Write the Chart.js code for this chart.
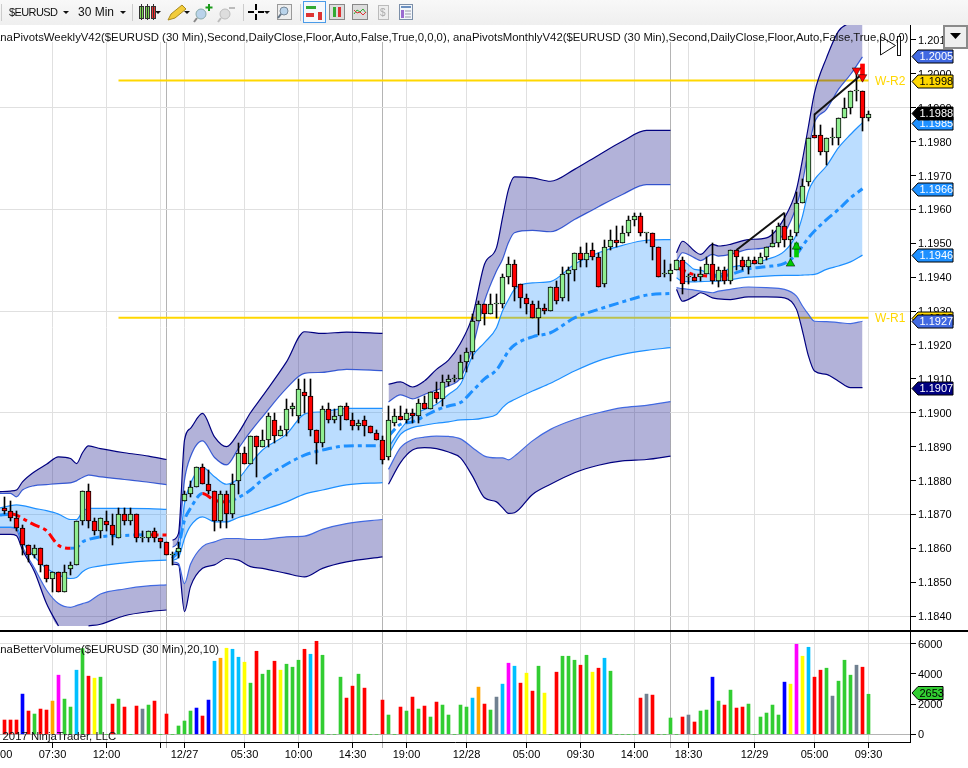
<!DOCTYPE html>
<html>
<head>
<meta charset="utf-8">
<title>$EURUSD 30 Min</title>
<script src="https://cdn.jsdelivr.net/npm/chart.js@4/dist/chart.umd.min.js"></script>
<style>
html,body{margin:0;padding:0;background:#fff;width:968px;height:768px;overflow:hidden;font-family:"Liberation Sans",Arial,sans-serif}
canvas{position:absolute;left:0;display:block}
#priceChart{top:25px}
#volumeChart{top:631px}
#bar{position:absolute;left:0;top:0;width:968px;height:25px;background:linear-gradient(#f8f8f8,#efefef)}
#over{position:absolute;left:0;top:0;pointer-events:none}
.note{position:absolute;font-size:11.35px;color:#111;white-space:nowrap;line-height:14px}
#split{position:absolute;left:0;top:630px;width:968px;height:1.5px;background:#000}
</style>
</head>
<body>
<div id="bar"></div>
<canvas id="priceChart" width="968" height="605"></canvas>
<canvas id="volumeChart" width="968" height="137"></canvas>
<div id="split"></div>
<div class="note" style="left:-6px;top:30px">anaPivotsWeeklyV42($EURUSD (30 Min),Second,DailyClose,Floor,Auto,False,True,0,0,0), anaPivotsMonthlyV42($EURUSD (30 Min),Second,DailyClose,Floor,Auto,False,True,0,0,0)</div>
<div class="note" style="left:-6px;top:642px">anaBetterVolume($EURUSD (30 Min),20,10)</div>
<div class="note" style="left:-9px;top:729px">© 2017 NinjaTrader, LLC</div>
<svg id="over" width="968" height="768" xmlns="http://www.w3.org/2000/svg">
 <g font-family="Liberation Sans" fill="#111">
  <text x="9" y="16" font-size="11" textLength="49">$EURUSD</text>
  <text x="78" y="16" font-size="12" textLength="36">30 Min</text>
 </g>
 <g fill="#111">
  <path d="M63 11h6l-3 3z"/><path d="M120 11h6l-3 3z"/><path d="M155 11h6l-3 3z"/><path d="M184 11h6l-3 3z"/><path d="M264 11h6l-3 3z"/>
 </g>
 <g stroke="#ccc"><path d="M1.5 4v17M132.5 4v17M243.5 4v17M300.5 4v17"/></g>
 <g stroke="#333">
  <rect x="139.5" y="6.5" width="4" height="12" fill="#7ed957"/><rect x="145.5" y="6.5" width="4" height="12" fill="#7ed957"/><rect x="151.5" y="6.5" width="4" height="12" fill="#e33"/>
  <path d="M141.5 4v16M147.5 4v16M153.5 4v16"/>
 </g>
 <path d="M168 20l3-6 11-9 4 4-11 9z" fill="#f2cc3a" stroke="#a88a20"/>
 <circle cx="201" cy="14" r="5" fill="#b9d3ea" stroke="#8aa"/><path d="M197 18l-3 4" stroke="#888" stroke-width="2"/><path d="M209 4v7M205.5 7.5h7" stroke="#1a9a1a" stroke-width="2"/>
 <circle cx="225" cy="14" r="5" fill="#ddd" stroke="#bbb"/><path d="M221 18l-3 4" stroke="#bbb" stroke-width="2"/><path d="M229 8h6" stroke="#bbb" stroke-width="2"/>
 <path d="M248 12h6M258 12h6M256 4v6M256 14v6" stroke="#000" stroke-width="2"/>
 <rect x="277.5" y="4.5" width="14" height="15" fill="#eee" stroke="#999"/><circle cx="284" cy="11" r="4" fill="#b9d3ea" stroke="#789"/><path d="M281 14l-3 4" stroke="#678" stroke-width="2"/>
 <rect x="303.5" y="1.5" width="22" height="21" fill="#f4f8fc" stroke="#4a9be8"/>
 <path d="M306 6h10v3h-10z" fill="#3a3"/><path d="M318 12h4v8h-4z" fill="#d33"/><path d="M306 13h8v4h-8z" fill="#d33"/>
 <rect x="329.5" y="4.5" width="15" height="15" fill="#ddd" stroke="#888"/><path d="M333 7h3v10h-3z" fill="#3a3"/><path d="M338 7h3v10h-3z" fill="#d33"/>
 <rect x="352.5" y="4.5" width="15" height="15" fill="#ddd" stroke="#888"/><path d="M354 14l3-4 3 2 3-3 3 4" fill="none" stroke="#3a3"/><path d="M354 10l3 3 3-1 3 3 3-3" fill="none" stroke="#d33"/>
 <rect x="378.5" y="5.5" width="10" height="14" fill="#eee" stroke="#bbb"/><text x="380" y="16" font-size="10" font-family="Liberation Sans" fill="#aaa">$</text>
 <rect x="399.5" y="4.5" width="13" height="15" fill="#f2f6fa" stroke="#7c8fa8"/><path d="M401 6h10v2h-10z" fill="#6a8fc0"/><path d="M401 10h3v8h-3z" fill="#9a6ad0"/><path d="M405 11h6M405 14h6M405 17h6" stroke="#99a"/>
 <path d="M880.5 36.5L895.5 45.5L880.5 55z" fill="#fff" fill-opacity="0" stroke="#111"/>
 <rect x="897.5" y="36.5" width="3" height="19" fill="#fff" stroke="#111"/>
 <rect x="944" y="26" width="23" height="22" fill="#efefef" stroke="#8a8a8a" stroke-width="2"/>
 <path d="M950 33h11l-5.5 6z" fill="#000"/>
</svg>
<script>
// candles, one entry per 30 min bar
const opens=[1.1872,1.1871,1.1869,1.1866,1.1861,1.1858,1.1860,1.1855,1.1851,1.1853,1.1847,1.1854,1.1855,1.1868,1.1877,1.1868,1.1865,1.1868,1.1867,1.1863,1.1870,1.1868,1.1870,1.1863,1.1863,1.1865,1.1863,1.1862,1.1858,1.1859,
1.1874,1.1876,1.1878,1.1884,1.1879,1.1877,1.1868,1.1876,1.1870,1.1880,1.1888,1.1885,1.1893,1.1890,1.1892,1.1898,1.1893,1.1895,1.1901,1.1899,1.1906,1.1905,1.1895,1.1891,1.1901,1.1898,1.1899,1.1902,1.1898,1.1896,1.1898,1.1896,1.1894,1.1892,
1.1887,1.1897,1.1899,1.1898,1.1900,1.1899,1.1903,1.1901,1.1906,1.1904,1.1909,1.1910,1.1910,1.1915,1.1918,1.1927,1.1932,1.1929,1.1932,1.1932,1.1940,1.1944,1.1938,1.1934,1.1932,1.1928,1.1931,1.1930,1.1937,1.1934,1.1941,1.1942,1.1947,1.1945,1.1948,1.1946,1.1938,1.1949,1.1951,1.1950,1.1953,1.1957,1.1958,1.1953,1.1953,1.1949,1.1941,1.1941,
1.1942,1.1945,1.1940,1.1940,1.1940,1.1941,1.1944,1.1939,1.1942,1.1939,1.1948,1.1945,1.1943,1.1945,1.1944,1.1946,1.1949,1.1950,1.1955,1.1951,1.1953,1.1962,1.1968,1.1982,1.1982,1.1977,1.1981,1.1981,1.1987,1.1990,1.1995,1.1995,1.1987];
const highs=[1.1875,1.1874,1.1871,1.1867,1.1861,1.1861,1.1860,1.1855,1.1853,1.1853,1.1855,1.1856,1.1868,1.1877,1.1879,1.1869,1.1869,1.1871,1.1870,1.1872,1.1872,1.1872,1.1870,1.1865,1.1865,1.1866,1.1863,1.1862,1.1859,1.1862,
1.1877,1.1880,1.1884,1.1885,1.1883,1.1877,1.1877,1.1877,1.1882,1.1891,1.1890,1.1893,1.1893,1.1895,1.1900,1.1900,1.1896,1.1904,1.1903,1.1910,1.1910,1.1910,1.1895,1.1902,1.1903,1.1901,1.1902,1.1903,1.1900,1.1898,1.1899,1.1896,1.1895,1.1893,
1.1902,1.1901,1.1902,1.1901,1.1901,1.1904,1.1905,1.1906,1.1909,1.1911,1.1911,1.1911,1.1917,1.1919,1.1929,1.1933,1.1932,1.1935,1.1935,1.1941,1.1946,1.1945,1.1938,1.1935,1.1933,1.1933,1.1932,1.1937,1.1939,1.1943,1.1943,1.1947,1.1949,1.1950,1.1950,1.1947,1.1951,1.1954,1.1955,1.1955,1.1958,1.1959,1.1959,1.1953,1.1953,1.1949,1.1945,1.1944,
1.1945,1.1946,1.1941,1.1941,1.1943,1.1946,1.1950,1.1943,1.1943,1.1948,1.1948,1.1946,1.1946,1.1946,1.1947,1.1949,1.1954,1.1956,1.1959,1.1954,1.1965,1.1969,1.1981,1.1988,1.1985,1.1981,1.1984,1.1987,1.1993,1.1995,1.2001,1.1995,1.1989];
const lows=[1.1870,1.1868,1.1865,1.1858,1.1856,1.1857,1.1853,1.1850,1.1847,1.1847,1.1847,1.1852,1.1855,1.1867,1.1866,1.1864,1.1863,1.1865,1.1861,1.1863,1.1867,1.1867,1.1862,1.1862,1.1862,1.1862,1.1860,1.1858,1.1855,1.1857,
1.1874,1.1875,1.1878,1.1879,1.1876,1.1865,1.1866,1.1866,1.1869,1.1876,1.1885,1.1885,1.1881,1.1890,1.1890,1.1891,1.1893,1.1893,1.1899,1.1897,1.1900,1.1893,1.1885,1.1890,1.1897,1.1897,1.1895,1.1898,1.1895,1.1895,1.1893,1.1894,1.1892,1.1885,
1.1886,1.1896,1.1898,1.1897,1.1897,1.1897,1.1901,1.1901,1.1903,1.1902,1.1908,1.1909,1.1910,1.1912,1.1916,1.1927,1.1926,1.1929,1.1928,1.1931,1.1938,1.1933,1.1931,1.1929,1.1928,1.1923,1.1929,1.1930,1.1932,1.1933,1.1933,1.1939,1.1943,1.1943,1.1945,1.1937,1.1937,1.1948,1.1949,1.1950,1.1952,1.1955,1.1952,1.1950,1.1945,1.1940,1.1940,1.1939,
1.1942,1.1935,1.1938,1.1939,1.1939,1.1941,1.1938,1.1937,1.1938,1.1938,1.1942,1.1942,1.1941,1.1944,1.1944,1.1945,1.1949,1.1949,1.1949,1.1946,1.1952,1.1962,1.1967,1.1981,1.1976,1.1973,1.1979,1.1979,1.1987,1.1988,1.1992,1.1983,1.1986];
const closes=[1.1871,1.1869,1.1866,1.1861,1.1858,1.1860,1.1855,1.1851,1.1853,1.1847,1.1853,1.1855,1.1868,1.1877,1.1868,1.1865,1.1869,1.1867,1.1864,1.1870,1.1868,1.1870,1.1863,1.1863,1.1865,1.1863,1.1862,1.1858,1.1858,1.1860,
1.1876,1.1878,1.1884,1.1879,1.1877,1.1868,1.1876,1.1870,1.1879,1.1888,1.1885,1.1893,1.1890,1.1892,1.1899,1.1893,1.1895,1.1901,1.1902,1.1907,1.1905,1.1895,1.1891,1.1901,1.1898,1.1899,1.1902,1.1898,1.1896,1.1897,1.1896,1.1894,1.1892,1.1886,
1.1898,1.1899,1.1898,1.1900,1.1899,1.1903,1.1901,1.1906,1.1904,1.1909,1.1910,1.1910,1.1915,1.1918,1.1927,1.1932,1.1929,1.1932,1.1932,1.1940,1.1944,1.1937,1.1934,1.1932,1.1928,1.1931,1.1930,1.1937,1.1933,1.1941,1.1942,1.1947,1.1945,1.1947,1.1946,1.1937,1.1949,1.1951,1.1950,1.1953,1.1957,1.1958,1.1953,1.1953,1.1949,1.1940,1.1941,1.1942,
1.1945,1.1938,1.1940,1.1939,1.1941,1.1944,1.1939,1.1942,1.1939,1.1948,1.1946,1.1943,1.1945,1.1944,1.1946,1.1949,1.1950,1.1955,1.1951,1.1952,1.1962,1.1967,1.1981,1.1981,1.1977,1.1981,1.1981,1.1987,1.1990,1.1995,1.1995,1.1987,1.1988];

// volume per bar, 0 where nothing printed; kinds: d down, u up, b blue, o orange, m magenta, c cyan, y yellow, s grey
const volumes=[946,946,946,2662,1540,1342,1672,1606,2200,3916,2332,1804,4246,5676,3850,3718,3784,0,2002,2332,1804,0,1870,1672,1936,2200,0,1342,0,550,
880,1540,1738,1210,2266,4840,5038,5698,5632,5104,4774,3388,5500,3982,4246,4840,4246,4642,4444,4906,5632,5302,6160,5236,0,0,3784,2398,3190,3982,3058,0,0,2266,
1276,0,1804,1540,2464,1672,1870,1144,2134,1936,1276,0,1936,1804,2398,3124,2002,1606,2464,3322,4708,4510,3388,4048,2860,4510,2728,0,4114,5170,5170,4906,4576,5236,4114,4378,5038,4180,0,0,0,0,2398,2662,2596,0,0,1078,
0,1144,1276,814,1540,1606,3784,2200,1936,2926,1738,1804,2002,0,1144,1408,1936,1276,3454,3322,5962,5170,5764,3784,4246,4378,2530,3520,4906,3916,4576,4444,2653];
const volumeKinds=['d','d','d','b','d','u','d','d','o','m','u','u','c','u','d','y','u','u','d','u','d','u','d','s','u','d','u','d','u','u',
'u','u','b','d','b','c','o','y','c','c','y','u','d','u','u','d','y','u','u','u','d','c','d','u','u','u','u','d','d','u','d','u','u','d',
'u','u','d','u','d','u','d','u','d','u','u','u','u','u','c','o','d','u','s','c','m','c','d','y','d','u','y','u','d','u','u','u','d','u','y','d','c','u','u','u','u','u','d','s','d','u','u','u',
'u','d','s','d','u','u','b','u','d','u','d','d','u','u','u','u','u','u','b','y','m','y','c','d','d','u','s','u','u','u','s','d','u'];

// time axis
const tickBars=[-1,8,17,26,27,30,40,49,58,63,67,77,87,96,105,111,114,125,135,144];
const tickLabels=['03:00','07:30','12:00','','','12/27','05:30','10:00','14:30','','19:00','12/28','05:00','09:30','14:00','','18:30','12/29','05:00','09:30'];
const sessionBars=[27,63,111];
const priceTicks=[1.184,1.185,1.186,1.187,1.188,1.189,1.19,1.191,1.192,1.193,1.194,1.195,1.196,1.197,1.198,1.199,1.2,1.201];
const priceGridTicks=[1.184,1.187,1.19,1.193,1.196,1.199];
const volumeTicks=[0,2000,4000,6000];

// session 1 bands
const s1Bars=[-1,1,2,3,5,7,9,11,12,13,14,16,20,24,27];
const s1Top=[1.18767,1.18769,1.18772,1.18796,1.18826,1.18848,1.18870,1.18865,1.18850,1.18882,1.18902,1.18894,1.18882,1.18872,1.18862];
const s1TopIn=[1.18762,1.18762,1.18752,1.18772,1.18785,1.18788,1.18791,1.18793,1.18799,1.18809,1.18816,1.18811,1.18803,1.18795,1.18788];
const s1Upper=[1.18718,1.18726,1.18728,1.18726,1.18718,1.18711,1.18701,1.18685,1.18685,1.18708,1.18718,1.18718,1.18718,1.18717,1.18715];
const s1Lower=[1.18662,1.18662,1.18662,1.18619,1.18575,1.18541,1.18521,1.18511,1.18514,1.18531,1.18541,1.18548,1.18557,1.18563,1.18565];
const s1BotIn=[1.18662,1.18662,1.18656,1.18605,1.18541,1.18477,1.18437,1.18426,1.18431,1.18437,1.18442,1.18465,1.18480,1.18489,1.18492];
const s1Bot=[1.18641,1.18641,1.18637,1.18595,1.18531,1.18437,1.18371,1.18371,1.18371,1.18371,1.18371,1.18376,1.18401,1.18413,1.18418];
const s1Mid=[1.18698,1.18701,1.18698,1.18688,1.18669,1.18652,1.18609,1.18600,1.18602,1.18619,1.18626,1.18634,1.18638,1.18640,1.18639];
const bandFloor=1.18371; // the panel cuts the lower band off here

// session 2 bands
const s2Bars=[28,29,30,31,33,35,37,39,41,43,47,50,53,57,63];
const s2Top=[1.18624,1.18644,1.18919,1.18954,1.18998,1.18929,1.18900,1.18941,1.19000,1.19049,1.19150,1.19239,1.19234,1.19238,1.19234];
const s2TopIn=[1.18603,1.18624,1.18801,1.18870,1.18917,1.18868,1.18846,1.18895,1.18944,1.18988,1.19072,1.19116,1.19119,1.19128,1.19124];
const s2Upper=[1.18573,1.18590,1.18732,1.18791,1.18839,1.18811,1.18789,1.18806,1.18850,1.18890,1.18937,1.18996,1.19003,1.19013,1.19013];
const s2Lower=[1.18565,1.18573,1.18629,1.18666,1.18693,1.18678,1.18678,1.18691,1.18701,1.18713,1.18737,1.18760,1.18772,1.18787,1.18794];
const s2BotIn=[1.18560,1.18555,1.18496,1.18553,1.18605,1.18619,1.18629,1.18629,1.18626,1.18626,1.18634,1.18636,1.18656,1.18673,1.18685];
const s2Bot=[1.18553,1.18551,1.18413,1.18487,1.18541,1.18551,1.18570,1.18565,1.18546,1.18541,1.18526,1.18516,1.18541,1.18560,1.18575];
const s2Mid=[1.18570,1.18605,1.18683,1.18718,1.18762,1.18742,1.18737,1.18750,1.18772,1.18803,1.18848,1.18875,1.18890,1.18902,1.18903];

// session 3 bands
const s3Bars=[64,66,68,70,72,74,76,78,80,82,83,84,85,88,91,95,99,103,107,111];
const s3Top=[1.19084,1.19091,1.19076,1.19094,1.19128,1.19155,1.19205,1.19285,1.19438,1.19487,1.19575,1.19659,1.19696,1.19693,1.19683,1.19718,1.19760,1.19801,1.19833,1.19833];
const s3TopIn=[1.19032,1.19053,1.19041,1.19054,1.19067,1.19079,1.19103,1.19192,1.19329,1.19418,1.19452,1.19502,1.19531,1.19538,1.19534,1.19570,1.19608,1.19644,1.19673,1.19673];
const s3Upper=[1.18897,1.18951,1.18990,1.19010,1.19025,1.19054,1.19084,1.19167,1.19207,1.19251,1.19300,1.19334,1.19364,1.19383,1.19387,1.19438,1.19472,1.19494,1.19509,1.19511];
const s3Lower=[1.18877,1.18936,1.18956,1.18963,1.18969,1.18973,1.18979,1.18980,1.18985,1.18995,1.19015,1.19030,1.19039,1.19064,1.19087,1.19123,1.19153,1.19172,1.19184,1.19192];
const s3BotIn=[1.18833,1.18897,1.18921,1.18928,1.18931,1.18930,1.18923,1.18897,1.18872,1.18867,1.18867,1.18861,1.18872,1.18917,1.18951,1.18980,1.19000,1.19015,1.19022,1.19033];
const s3Bot=[1.18789,1.18853,1.18890,1.18897,1.18894,1.18884,1.18867,1.18813,1.18749,1.18737,1.18720,1.18703,1.18705,1.18759,1.18789,1.18823,1.18845,1.18858,1.18862,1.18872];
const s3Mid=[1.18931,1.18966,1.18973,1.18990,1.19008,1.19020,1.19030,1.19064,1.19100,1.19126,1.19153,1.19182,1.19200,1.19224,1.19236,1.19280,1.19305,1.19327,1.19347,1.19352];

// session 4 bands
const s4Bars=[112,113,115,116,118,119,121,124,127,130,132,133,134,135,137,139,141,143];
const s4Top=[1.19472,1.19506,1.19477,1.19467,1.19497,1.19492,1.19497,1.19511,1.19516,1.19575,1.19659,1.19747,1.19846,1.19944,1.20047,1.20126,1.20151,1.20165];
const s4TopIn=[1.19447,1.19472,1.19457,1.19449,1.19467,1.19462,1.19467,1.19482,1.19487,1.19531,1.19610,1.19679,1.19777,1.19856,1.19895,1.19954,1.19998,1.20050];
const s4Upper=[1.19443,1.19447,1.19423,1.19421,1.19408,1.19408,1.19428,1.19438,1.19452,1.19477,1.19526,1.19580,1.19654,1.19688,1.19728,1.19782,1.19821,1.19856];
const s4Lower=[1.19398,1.19388,1.19386,1.19387,1.19388,1.19388,1.19393,1.19400,1.19403,1.19405,1.19405,1.19406,1.19407,1.19408,1.19423,1.19433,1.19445,1.19465];
const s4BotIn=[1.19369,1.19366,1.19362,1.19359,1.19354,1.19359,1.19364,1.19371,1.19369,1.19364,1.19344,1.19315,1.19290,1.19270,1.19269,1.19266,1.19263,1.19270];
const s4Bot=[1.19364,1.19329,1.19344,1.19354,1.19339,1.19336,1.19334,1.19342,1.19342,1.19339,1.19305,1.19241,1.19167,1.19123,1.19113,1.19093,1.19074,1.19074];
const s4Mid=[1.19428,1.19421,1.19407,1.19405,1.19403,1.19403,1.19408,1.19425,1.19431,1.19441,1.19467,1.19492,1.19516,1.19536,1.19570,1.19600,1.19634,1.19661];

// pivots and drawings
const pivotR2=1.1998, pivotR1=1.1928;
const pivotStart=19, pivotEnd=144;
const trendA=[[122,1.1948],[130,1.1959]];
const trendB=[[135,1.1988],[143,1.2000]];
const arrowUp={bar:132,from:1.1946,to:1.1950,head:1.1949};
const arrowDown={bar:143,from:1.2003,to:1.1999,head:1.1999};
const triUp={bar:131,price:1.1944};
const triDown={bar:142,price:1.2001};

// right hand price tags: level it sits at, and the text it shows
const tagLevels=[1.20053,1.1998,1.19856,1.19884,1.19661,1.19465,1.1928,1.1927,1.19074];
const tagTexts=['1.2005','1.1998','1.1985','1.1988','1.1966','1.1946','1.1928','1.1927','1.1907'];
const tagKinds=['royal','gold','sky','black','sky','sky','gold','royal','navy'];
const lastVolume=2653;

const GREEN_BODY='#90EE90',RED='#FF0000',NAVY='#000080',ROYAL='#4169E1',SKY='#1E90FF',GOLD='#FFD700',GRID='#E0E0E0',SEP='#B4B4B4';
const TAG_STYLE={royal:[ROYAL,'#fff'],gold:[GOLD,'#000'],sky:[SKY,'#fff'],black:['#000','#fff'],navy:[NAVY,'#fff']};
const VOL_COLOR={d:'#FF0000',u:'#32CD32',b:'#0000FF',o:'#FFA500',m:'#FF00FF',c:'#00BFFF',y:'#FFFF00',s:'#708090'};
const FONT='"Liberation Sans", Arial, sans-serif';
const X_MIN=-0.75,X_MAX=150.9167;

Chart.defaults.font.family=FONT;
Chart.defaults.font.size=11;
Chart.defaults.color='#000';

function pts(bars_,vals){return bars_.map((b,i)=>({x:b,y:vals[i]}));}
const bars=opens.map((_,i)=>i);
const datasets=[];

function lineDs(bars_,vals,color,width,order,extra){
 return Object.assign({type:'line',data:pts(bars_,vals),borderColor:color,borderWidth:width,pointRadius:0,fill:false,order:order,cubicInterpolationMode:'monotone'},extra||{});
}
// gold pivots go under the bands
datasets.push(lineDs([pivotStart,pivotEnd],[pivotR2,pivotR2],GOLD,2,100,{cubicInterpolationMode:'default'}));
datasets.push(lineDs([pivotStart,pivotEnd],[pivotR1,pivotR1],GOLD,2,100,{cubicInterpolationMode:'default'}));

function addSession(b,top,topIn,upper,lower,botIn,bot,mid){
 const n=datasets.length;
 const purple='rgba(0,0,128,0.3)',blue='rgba(30,144,255,0.3)';
 datasets.push(lineDs(b,top,NAVY,1.2,50,{fill:{target:n+1},backgroundColor:purple}));
 datasets.push(lineDs(b,topIn,ROYAL,1.2,50));
 datasets.push(lineDs(b,upper,SKY,1.2,50,{fill:{target:n+3},backgroundColor:blue}));
 datasets.push(lineDs(b,lower,SKY,1.2,50));
 datasets.push(lineDs(b,botIn,ROYAL,1.2,50,{fill:{target:n+5},backgroundColor:purple}));
 datasets.push(lineDs(b,bot,NAVY,0,50));
 // visible outer line leaves out the stretch lying on the panel floor
 const shown=bot.map((v,i)=>(v<=bandFloor&&bot[i-1]<=bandFloor&&bot[i+1]<=bandFloor)||(v<=bandFloor&&i>0&&i<bot.length-1&&bot[i-1]<=bandFloor&&i<bot.length-2&&bot[i+2]<=bandFloor)?null:v);
 datasets.push(lineDs(b,shown,NAVY,1.2,50));
 datasets.push(lineDs(b,mid,SKY,3,40,{borderDash:[10,4,4,4],segment:{borderColor:c=>c.p1.parsed.y<c.p0.parsed.y?RED:SKY}}));
}
addSession(s1Bars,s1Top,s1TopIn,s1Upper,s1Lower,s1BotIn,s1Bot,s1Mid);
addSession(s2Bars,s2Top,s2TopIn,s2Upper,s2Lower,s2BotIn,s2Bot,s2Mid);
addSession(s3Bars,s3Top,s3TopIn,s3Upper,s3Lower,s3BotIn,s3Bot,s3Mid);
addSession(s4Bars,s4Top,s4TopIn,s4Upper,s4Lower,s4BotIn,s4Bot,s4Mid);

// wicks then bodies
datasets.push({type:'bar',grouped:false,order:30,barThickness:1,backgroundColor:'#000',borderWidth:0,
 data:bars.map(i=>({x:i,y:[lows[i],highs[i]]}))});
datasets.push({type:'bar',grouped:false,order:20,barThickness:5,minBarLength:1,borderColor:'#000',borderWidth:1,borderSkipped:false,
 backgroundColor:bars.map(i=>closes[i]>=opens[i]?GREEN_BODY:RED),
 data:bars.map(i=>({x:i,y:[opens[i],closes[i]]}))});

// trend lines and signals
datasets.push(lineDs(trendA.map(p=>p[0]),trendA.map(p=>p[1]),'#111',2,10,{cubicInterpolationMode:'default'}));
datasets.push(lineDs(trendB.map(p=>p[0]),trendB.map(p=>p[1]),'#111',2,10,{cubicInterpolationMode:'default'}));
datasets.push({type:'bar',grouped:false,order:8,barThickness:4,backgroundColor:'#00CC00',borderWidth:0,data:[{x:arrowUp.bar,y:[arrowUp.from,arrowUp.to]}]});
datasets.push({type:'bar',grouped:false,order:8,barThickness:4,backgroundColor:RED,borderWidth:0,data:[{x:arrowDown.bar,y:[arrowDown.from,arrowDown.to]}]});
datasets.push({type:'scatter',order:7,pointStyle:'triangle',pointRadius:5,backgroundColor:'#00CC00',borderColor:'#000',borderWidth:0.5,data:[{x:arrowUp.bar,y:arrowUp.head},{x:triUp.bar,y:triUp.price}]});
datasets.push({type:'scatter',order:7,pointStyle:'triangle',pointRotation:180,pointRadius:5,backgroundColor:RED,borderColor:'#000',borderWidth:0.5,data:[{x:arrowDown.bar,y:arrowDown.head},{x:triDown.bar,y:triDown.price}]});

function drawTag(ctx,y,text,fill,color,right){
 ctx.beginPath();ctx.moveTo(912,y);ctx.lineTo(918,y-6.5);ctx.lineTo(right,y-6.5);ctx.lineTo(right,y+6.5);ctx.lineTo(918,y+6.5);ctx.closePath();
 ctx.fillStyle=fill;ctx.fill();ctx.strokeStyle='#000';ctx.lineWidth=1;ctx.stroke();
 ctx.fillStyle=color;ctx.font='11px '+FONT;ctx.textAlign='left';ctx.textBaseline='middle';ctx.fillText(text,919.5,y+0.5);
}
// snap candle edges to whole pixels so the outlines stay crisp
function snapBars(c){
 c.getSortedVisibleDatasetMetas().forEach(m=>{
  if(m.type!=='bar') return;
  m.data.forEach(el=>{el.y=Math.round(el.y);el.base=Math.round(el.base);});
 });
}
const priceDecor={
 id:'priceDecor',
 beforeDatasetsDraw(c){ // grid stops under the indicator caption
  const a=c.ctx;a.save();a.fillStyle='#fff';a.fillRect(0,0,c.chartArea.right,17);a.restore();
  snapBars(c);
 },
 afterDraw(c){
  const a=c.ctx,s=c.scales.y;a.save();
  tagLevels.forEach((v,i)=>{const st=TAG_STYLE[tagKinds[i]];drawTag(a,Math.round(s.getPixelForValue(v))+.5,tagTexts[i],st[0],st[1],953);});
  a.fillStyle=GOLD;a.font='12px '+FONT;a.textAlign='left';a.textBaseline='middle';
  a.fillText('W-R2',875,s.getPixelForValue(pivotR2)+1);
  a.fillText('W-R1',875,s.getPixelForValue(pivotR1)+1);
  a.restore();
 }
};
const volumeDecor={
 id:'volumeDecor',
 afterDraw(c){const a=c.ctx;a.save();drawTag(a,62,String(lastVolume),'#32CD32','#000',943);a.restore();}
};

function xScale(showTicks){
 return {type:'linear',min:X_MIN,max:X_MAX,offset:false,
  afterBuildTicks:s=>{s.ticks=tickBars.map(v=>({value:v}));},
  afterFit:s=>{s.paddingLeft=0;s.paddingRight=0;s.height=showTicks?26:0;},
  border:{display:showTicks,color:'#000',width:1},
  grid:{offset:false,color:c=>sessionBars.includes(c.tick&&c.tick.value)?SEP:GRID,lineWidth:1,drawTicks:showTicks,tickLength:6,
   tickColor:c=>sessionBars.includes(c.tick&&c.tick.value)?SEP:'#000'},
  ticks:{display:showTicks,autoSkip:false,maxRotation:0,minRotation:0,padding:0,color:'#000',
   callback:v=>{const k=tickBars.indexOf(v);return k<0?'':tickLabels[k];}}};
}
function yScale(min,max,values,gridFn,fmt){
 return {position:'right',min:min,max:max,
  afterBuildTicks:s=>{s.ticks=values.map(v=>({value:v}));},
  afterFit:s=>{s.width=58;s.paddingTop=0;s.paddingBottom=0;},
  border:{display:true,color:'#000',width:1},
  grid:{color:gridFn,lineWidth:1,drawTicks:true,tickLength:6,tickColor:'#000'},
  ticks:{autoSkip:false,padding:2,labelOffset:1,color:'#000',callback:fmt}};
}

new Chart(document.getElementById('priceChart'),{
 type:'line',
 data:{datasets:datasets},
 plugins:[priceDecor],
 options:{responsive:false,animation:false,devicePixelRatio:1,layout:{padding:0,autoPadding:false},
  plugins:{legend:{display:false},tooltip:{enabled:false}},
  scales:{
   x:xScale(false),
   y:yScale(1.18359,1.20144,priceTicks,
    c=>priceGridTicks.some(v=>Math.abs(v-(c.tick?c.tick.value:0))<1e-6)?GRID:'rgba(0,0,0,0)',
    v=>Number(v).toFixed(4))
  }}
});

new Chart(document.getElementById('volumeChart'),{
 type:'bar',
 data:{datasets:[{type:'bar',barThickness:3,borderWidth:0,
  backgroundColor:volumeKinds.map(k=>VOL_COLOR[k]),
  data:bars.map(i=>({x:i,y:volumes[i]}))}]},
 plugins:[volumeDecor],
 options:{responsive:false,animation:false,devicePixelRatio:1,layout:{padding:{top:1},autoPadding:false},
  plugins:{legend:{display:false},tooltip:{enabled:false}},
  scales:{
   x:xScale(true),
   y:yScale(-510,6775,volumeTicks,
    c=>{const v=c.tick?c.tick.value:-1;return v===0?SEP:(v===6000?GRID:'rgba(0,0,0,0)');},
    v=>String(v))
  }}
});
</script>
</body>
</html>
